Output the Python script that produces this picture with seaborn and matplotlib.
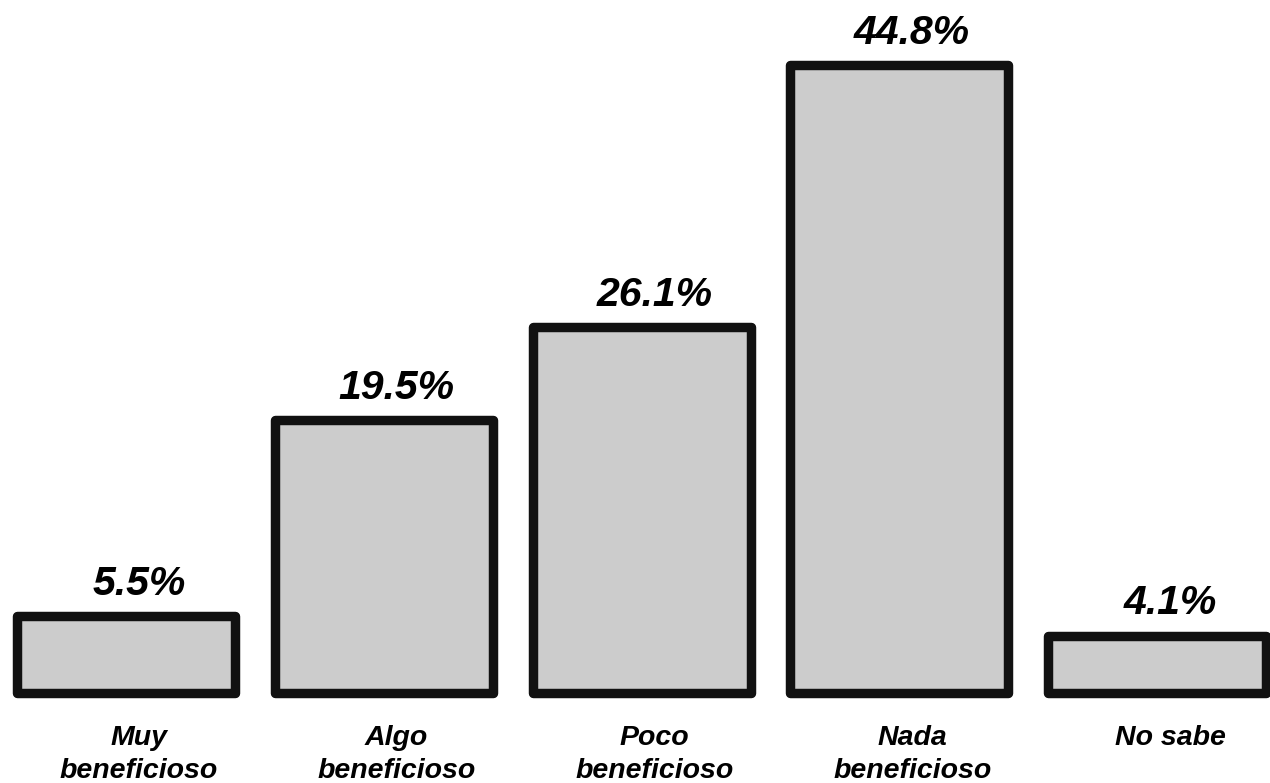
import matplotlib
matplotlib.use("Agg")
import matplotlib.pyplot as plt
import seaborn as sns
import pandas as pd

categories = ["Muy\nbeneficioso", "Algo\nbeneficioso", "Poco\nbeneficioso", "Nada\nbeneficioso", "No sabe"]
values = [5.5, 19.5, 26.1, 44.8, 4.1]
value_labels = ["5.5%", "19.5%", "26.1%", "44.8%", "4.1%"]

sns.set_theme(style="white")
plt.rcParams['font.family'] = ['Liberation Sans', 'DejaVu Sans']

df = pd.DataFrame({"cat": categories, "val": values})

fig = plt.figure(figsize=(12.7, 7.83), dpi=100)
ax = fig.add_axes([0, 0, 1, 1])
sns.barplot(data=df, x="cat", y="val", color="#cccccc", width=0.846,
            edgecolor="#111111", linewidth=6.8, saturation=1, ax=ax)
for p in ax.patches:
    p.set_joinstyle("round")
    p.set_facecolor("#cccccc")

ax.set_xlim(-0.489, 4.438)
ax.set_ylim(-6.42, 49.43)
ax.axis("off")

for i, (v, lab) in enumerate(zip(values, value_labels)):
    ax.text(i + 0.05, v + 1.5, lab, ha="center", va="baseline", fontsize=29.5,
            fontweight="bold", fontstyle="italic", color="black")

for i, c in enumerate(categories):
    ax.text(i + 0.05, -2.25, c, ha="center", va="top", fontsize=20.5, fontweight="bold",
            fontstyle="italic", color="black", linespacing=1.38)

fig.savefig("out.png", dpi=100)
